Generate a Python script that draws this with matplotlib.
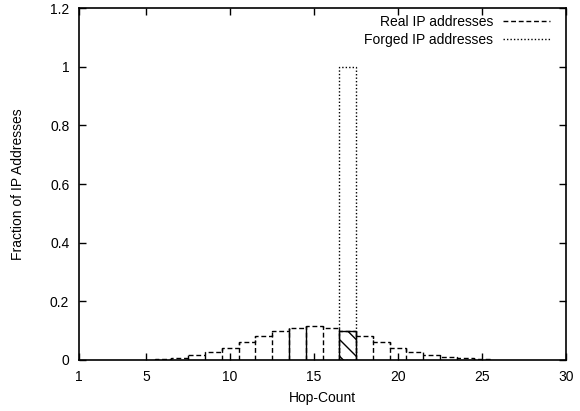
import numpy as np
import matplotlib.pyplot as plt
from matplotlib.lines import Line2D

plt.rcParams['font.family'] = ['Liberation Sans', 'DejaVu Sans']
plt.rcParams['font.size'] = 10

# hop-count distribution
hops = [6, 7, 8, 9, 10, 11, 12, 13, 14, 15, 16, 17, 18, 19, 20, 21, 22, 23, 24, 25]
real = [0.0045, 0.008, 0.017, 0.026, 0.042, 0.060, 0.081, 0.098, 0.110, 0.115,
        0.110, 0.099, 0.083, 0.060, 0.040, 0.026, 0.018, 0.011, 0.007, 0.003]
forged_hops = [17]
forged = [1.0]

fig = plt.figure(figsize=(5.8, 4.11), dpi=100)
ax = fig.add_axes([0.1362, 0.1241, 0.8397, 0.8564])

dash = (0, (3.5, 2))
dot = (0, (1, 1.5))

# box outlines: outer contour + inner edges, all started from 0 so dashes line up
h = np.array(hops)
r = np.array(real)
edges = np.append(h - 0.5, h[-1] + 0.5)
ax.stairs(r, edges, baseline=0, color='black', linewidth=1, linestyle=dash)
ax.vlines(edges[1:-1], 0, np.maximum(r[:-1], r[1:]), colors='black',
          linewidth=1, linestyles=[dash])

ax.bar(forged_hops, forged, width=1, fill=False, edgecolor='black', linewidth=1, linestyle=dot)

# overlapping bar at 17 shows up hatched and solid
i17 = hops.index(17)
ax.bar([17], [real[i17]], width=1, fill=False, edgecolor='black', linewidth=1, hatch='\\\\')
# solid edges around bar 14
i14 = hops.index(14)
ax.vlines([13.5, 14.5], 0, [max(real[i14 - 1], real[i14]), max(real[i14], real[i14 + 1])],
          colors='black', linewidth=1)

ax.set_xlim(1, 30)
ax.set_ylim(0, 1.2)
ax.set_xticks([1, 5, 10, 15, 20, 25, 30])
ax.set_yticks([0, 0.2, 0.4, 0.6, 0.8, 1.0, 1.2])
ax.set_yticklabels(['0', '0.2', '0.4', '0.6', '0.8', '1', '1.2'])
ax.tick_params(direction='in', length=5, top=True, right=True, width=1, pad=7)
for s in ax.spines.values():
    s.set_linewidth(1.2)

ax.set_xlabel('Hop-Count')
ax.set_ylabel('Fraction of IP Addresses')
ax.xaxis.set_label_coords(0.5, -0.088)
ax.yaxis.set_label_coords(-0.111, 0.5)

handles = [Line2D([], [], color='black', linewidth=1, linestyle=dash),
           Line2D([], [], color='black', linewidth=1, linestyle=dot)]
ax.legend(handles, ['Real IP addresses', 'Forged IP addresses'], loc='upper right',
          bbox_to_anchor=(0.967, 0.98), frameon=False, markerfirst=False,
          handlelength=3.4, borderaxespad=0, borderpad=0,
          labelspacing=0.3, handletextpad=0.7)

fig.savefig('out.png', dpi=100)
